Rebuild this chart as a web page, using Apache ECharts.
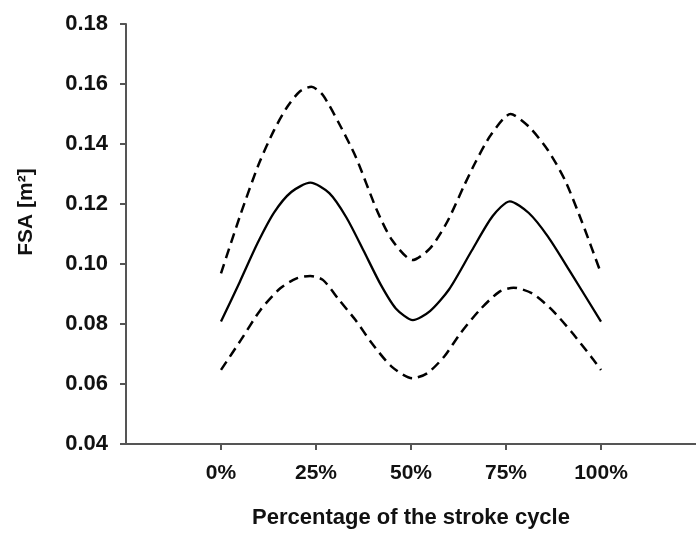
<!DOCTYPE html>
<html>
<head>
<meta charset="utf-8">
<script src="https://cdn.jsdelivr.net/npm/echarts@6/dist/echarts.min.js"></script>
<style>
html,body{margin:0;padding:0;background:#fff;}
#c{width:696px;height:534px;}
</style>
</head>
<body>
<div id="c"></div>
<script>
// Tick labels
var xTicks = [0, 25, 50, 75, 100];
var yTicks = [0.04, 0.06, 0.08, 0.10, 0.12, 0.14, 0.16, 0.18];

// Mean curve (solid)
var meanX = [0, 5, 9.6, 14, 18.5, 23.5, 28.5, 33, 37.5, 42, 46, 50.5, 55, 60, 66, 71.5, 76, 81, 86, 92, 100];
var meanY = [0.0808, 0.0942, 0.1069, 0.1172, 0.1240, 0.1271, 0.1236, 0.1155, 0.1045, 0.0932, 0.0852, 0.0813, 0.0843, 0.0915, 0.1045, 0.1160, 0.1209, 0.1170, 0.1092, 0.0972, 0.0808];

// Upper bound (dashed)
var upperX = [0, 5, 10, 14, 17.5, 20.8, 23.8, 26.8, 31, 35.5, 41, 45, 50.4, 55, 59.5, 64, 67, 71, 76.2, 81, 86, 90.5, 95, 100];
var upperY = [0.0969, 0.1160, 0.1335, 0.1447, 0.1525, 0.1576, 0.1591, 0.1563, 0.1470, 0.1356, 0.1180, 0.1080, 0.1013, 0.1052, 0.1140, 0.1262, 0.1340, 0.1430, 0.1500, 0.1458, 0.1380, 0.1280, 0.1140, 0.0969];

// Lower bound (dashed)
var lowerX = [0, 5.25, 10.4, 15.6, 19.9, 23.5, 26.8, 31.1, 35.4, 39.7, 44.9, 50.4, 54.3, 58.7, 63, 68.1, 73.3, 77, 81.9, 87.1, 92.2, 97.4, 100];
var lowerY = [0.0647, 0.0747, 0.0847, 0.0919, 0.0952, 0.096, 0.0947, 0.088, 0.0813, 0.0736, 0.0658, 0.0619, 0.0636, 0.0691, 0.0769, 0.0847, 0.0908, 0.0921, 0.0902, 0.0847, 0.0774, 0.0691, 0.0647];

function pairs(xs, ys){ return xs.map(function(x,i){ return [x, ys[i]]; }); }

var FONT = 'Liberation Sans, Arial, sans-serif';
var axisColor = '#555';

var chart = echarts.init(document.getElementById('c'), null, {renderer:'canvas'});
chart.setOption({
  animation: false,
  backgroundColor: '#fff',
  grid: {left: 126, top: 24, width: 580, height: 420, containLabel: false},
  xAxis: {
    type: 'value', min: -25, max: 125, interval: 25,
    name: 'Percentage of the stroke cycle', nameLocation: 'middle', nameGap: 63,
    nameTextStyle: {fontFamily: FONT, fontWeight: 'bold', fontSize: 22, color: '#111'},
    axisLine: {show: true, onZero: false, lineStyle: {color: axisColor, width: 2}},
    axisTick: {show: true, inside: false, length: 6, lineStyle: {color: axisColor, width: 2}, customValues: xTicks},
    axisLabel: {customValues: xTicks, margin: 19, fontFamily: FONT, fontWeight: 'bold', fontSize: 21, color: '#111',
      formatter: function(v){ return v + '%'; }},
    splitLine: {show: false}
  },
  yAxis: {
    type: 'value', min: 0.04, max: 0.18, interval: 0.02,
    axisLine: {show: true, onZero: false, lineStyle: {color: axisColor, width: 2}},
    axisTick: {show: true, inside: false, length: 6, lineStyle: {color: axisColor, width: 2}, customValues: yTicks},
    axisLabel: {customValues: yTicks, margin: 18, fontFamily: FONT, fontWeight: 'bold', fontSize: 22, color: '#111',
      formatter: function(v){ return v.toFixed(2); }},
    splitLine: {show: false}
  },
  graphic: [{
    type: 'text', x: 26, y: 212, rotation: Math.PI/2,
    style: {text: 'FSA [m²]', font: 'bold 21px ' + FONT, fill: '#111', align: 'center', verticalAlign: 'middle'}
  }],
  series: [
    {type: 'line', data: pairs(upperX, upperY), smooth: 0.25, showSymbol: false,
      lineStyle: {color: '#000', width: 2.5, type: [10, 6]}},
    {type: 'line', data: pairs(meanX, meanY), smooth: 0.25, showSymbol: false,
      lineStyle: {color: '#000', width: 2.3, type: 'solid'}},
    {type: 'line', data: pairs(lowerX, lowerY), smooth: 0.25, showSymbol: false,
      lineStyle: {color: '#000', width: 2.5, type: [10, 6]}}
  ]
});
</script>
</body>
</html>
